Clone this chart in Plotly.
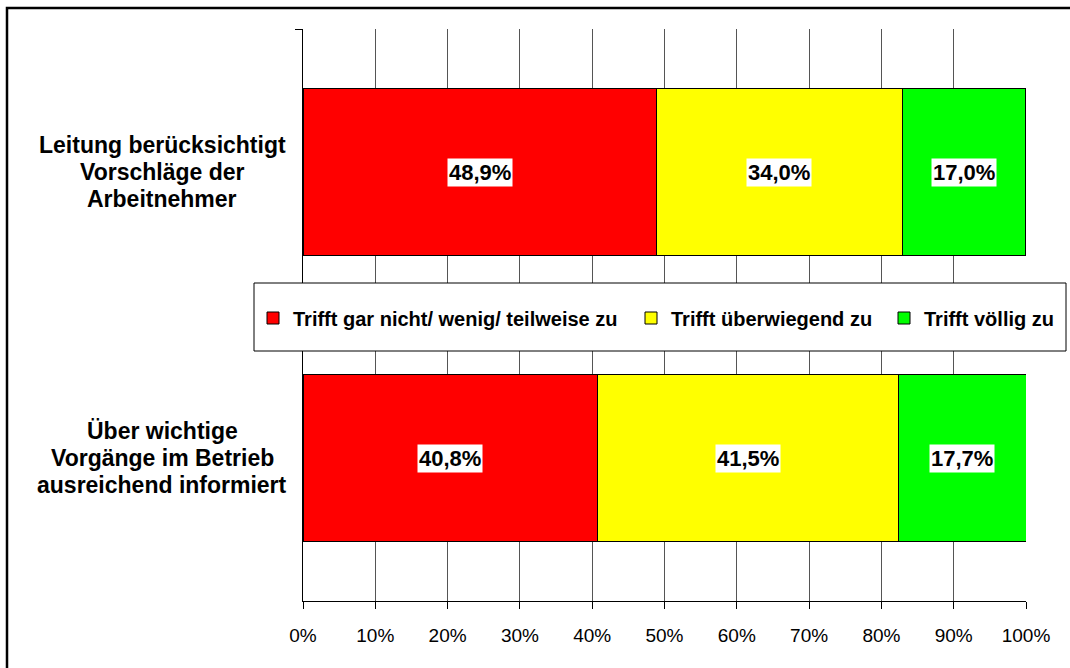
import plotly.graph_objects as go

# Survey answers per statement (percent of respondents)
category_lines = [
    ["Leitung berücksichtigt", "Vorschläge der", "Arbeitnehmer"],
    ["Über wichtige", "Vorgänge im Betrieb", "ausreichend informiert"],
]
categories = [" ".join(lines) for lines in category_lines]
series_names = [
    "Trifft gar nicht/ wenig/ teilweise zu",
    "Trifft überwiegend zu",
    "Trifft völlig zu",
]
gar_nicht = [48.9, 40.8]
ueberwiegend = [34.0, 41.5]
voellig = [17.0, 17.7]
series_values = [gar_nicht, ueberwiegend, voellig]
series_colors = ["#FF0000", "#FFFF00", "#00FF00"]
x_ticks = [0, 10, 20, 30, 40, 50, 60, 70, 80, 90, 100]
x_tick_labels = [f"{t}%" for t in x_ticks]

W, H = 1070, 668
ML, MR, MT, MB = 303, 44, 29, 67
PW, PH = W - ML - MR, H - MT - MB


def px_x(px):
    return (px - ML) / PW


def px_y(py):
    return (H - MB - py) / PH


FONT = "Arial, Liberation Sans, sans-serif"

fig = go.Figure()
legend_ids = ["legend", "legend2", "legend3"]
for name, vals, color, lg in zip(series_names, series_values, series_colors, legend_ids):
    fig.add_trace(go.Bar(
        y=categories, x=vals, name=name, orientation="h",
        marker=dict(color=color, line=dict(color="black", width=1)),
        legend=lg, hoverinfo="skip",
    ))

# value labels in white boxes centred on each segment
annotations = []
for ci, cat in enumerate(categories):
    start = 0.0
    for vals in series_values:
        v = vals[ci]
        annotations.append(dict(
            x=start + v / 2, y=cat, xref="x", yref="y",
            text=f"<b>{v:.1f}%</b>".replace(".", ","),
            showarrow=False, bgcolor="white", borderpad=1,
            font=dict(family=FONT, size=22, color="black"),
        ))
        start += v

# category labels to the left of the axis, one line at a time
LINE_STEP = 27
for cat, lines in zip(categories, category_lines):
    n = len(lines)
    for li, line in enumerate(lines):
        annotations.append(dict(
            x=px_x(162), y=cat, xref="paper", yref="y",
            text=f"<b>{line}</b>", showarrow=False,
            xanchor="center", yanchor="middle",
            yshift=((n - 1) / 2 - li) * LINE_STEP,
            font=dict(family=FONT, size=23, color="black"),
        ))

shapes = [
    # legend box
    dict(type="rect", xref="paper", yref="paper",
         x0=px_x(254), x1=px_x(1066), y0=px_y(351), y1=px_y(283),
         fillcolor="white", line=dict(color="black", width=1), layer="above"),
    # outer frame
    dict(type="rect", xref="paper", yref="paper",
         x0=px_x(7), x1=px_x(1085), y0=px_y(690), y1=px_y(8),
         fillcolor="rgba(0,0,0,0)", line=dict(color="black", width=2.5), layer="above"),
]

legend_style = dict(
    orientation="h", yanchor="middle", xanchor="left",
    bgcolor="rgba(0,0,0,0)", borderwidth=0,
    font=dict(family=FONT, size=20, color="black", weight="bold"),
)
legend_left = [253, 631, 884]

fig.update_layout(
    width=W, height=H,
    margin=dict(l=ML, r=MR, t=MT, b=MB, pad=0, autoexpand=False),
    paper_bgcolor="white", plot_bgcolor="white",
    barmode="stack", bargap=0.413,
    showlegend=True,
    legend=dict(legend_style, x=px_x(legend_left[0]), y=px_y(318)),
    legend2=dict(legend_style, x=px_x(legend_left[1]), y=px_y(318)),
    legend3=dict(legend_style, x=px_x(legend_left[2]), y=px_y(318)),
    xaxis=dict(
        range=[0, 100], tickvals=x_ticks, ticktext=x_tick_labels,
        showgrid=True, gridcolor="#555555", gridwidth=1,
        showline=True, linecolor="black", linewidth=1,
        ticks="outside", ticklen=7, tickcolor="black", ticklabelstandoff=10,
        tickfont=dict(family=FONT, size=19, color="black"),
        zeroline=False, fixedrange=True,
    ),
    yaxis=dict(
        categoryorder="array", categoryarray=categories,
        range=[1.5, -0.5], showticklabels=False,
        showgrid=False, showline=True, linecolor="black", linewidth=1,
        ticks="outside", ticklen=7, tickcolor="black", tickson="boundaries",
        zeroline=False, fixedrange=True,
    ),
    annotations=annotations,
    shapes=shapes,
)

fig.write_html("out.html")
